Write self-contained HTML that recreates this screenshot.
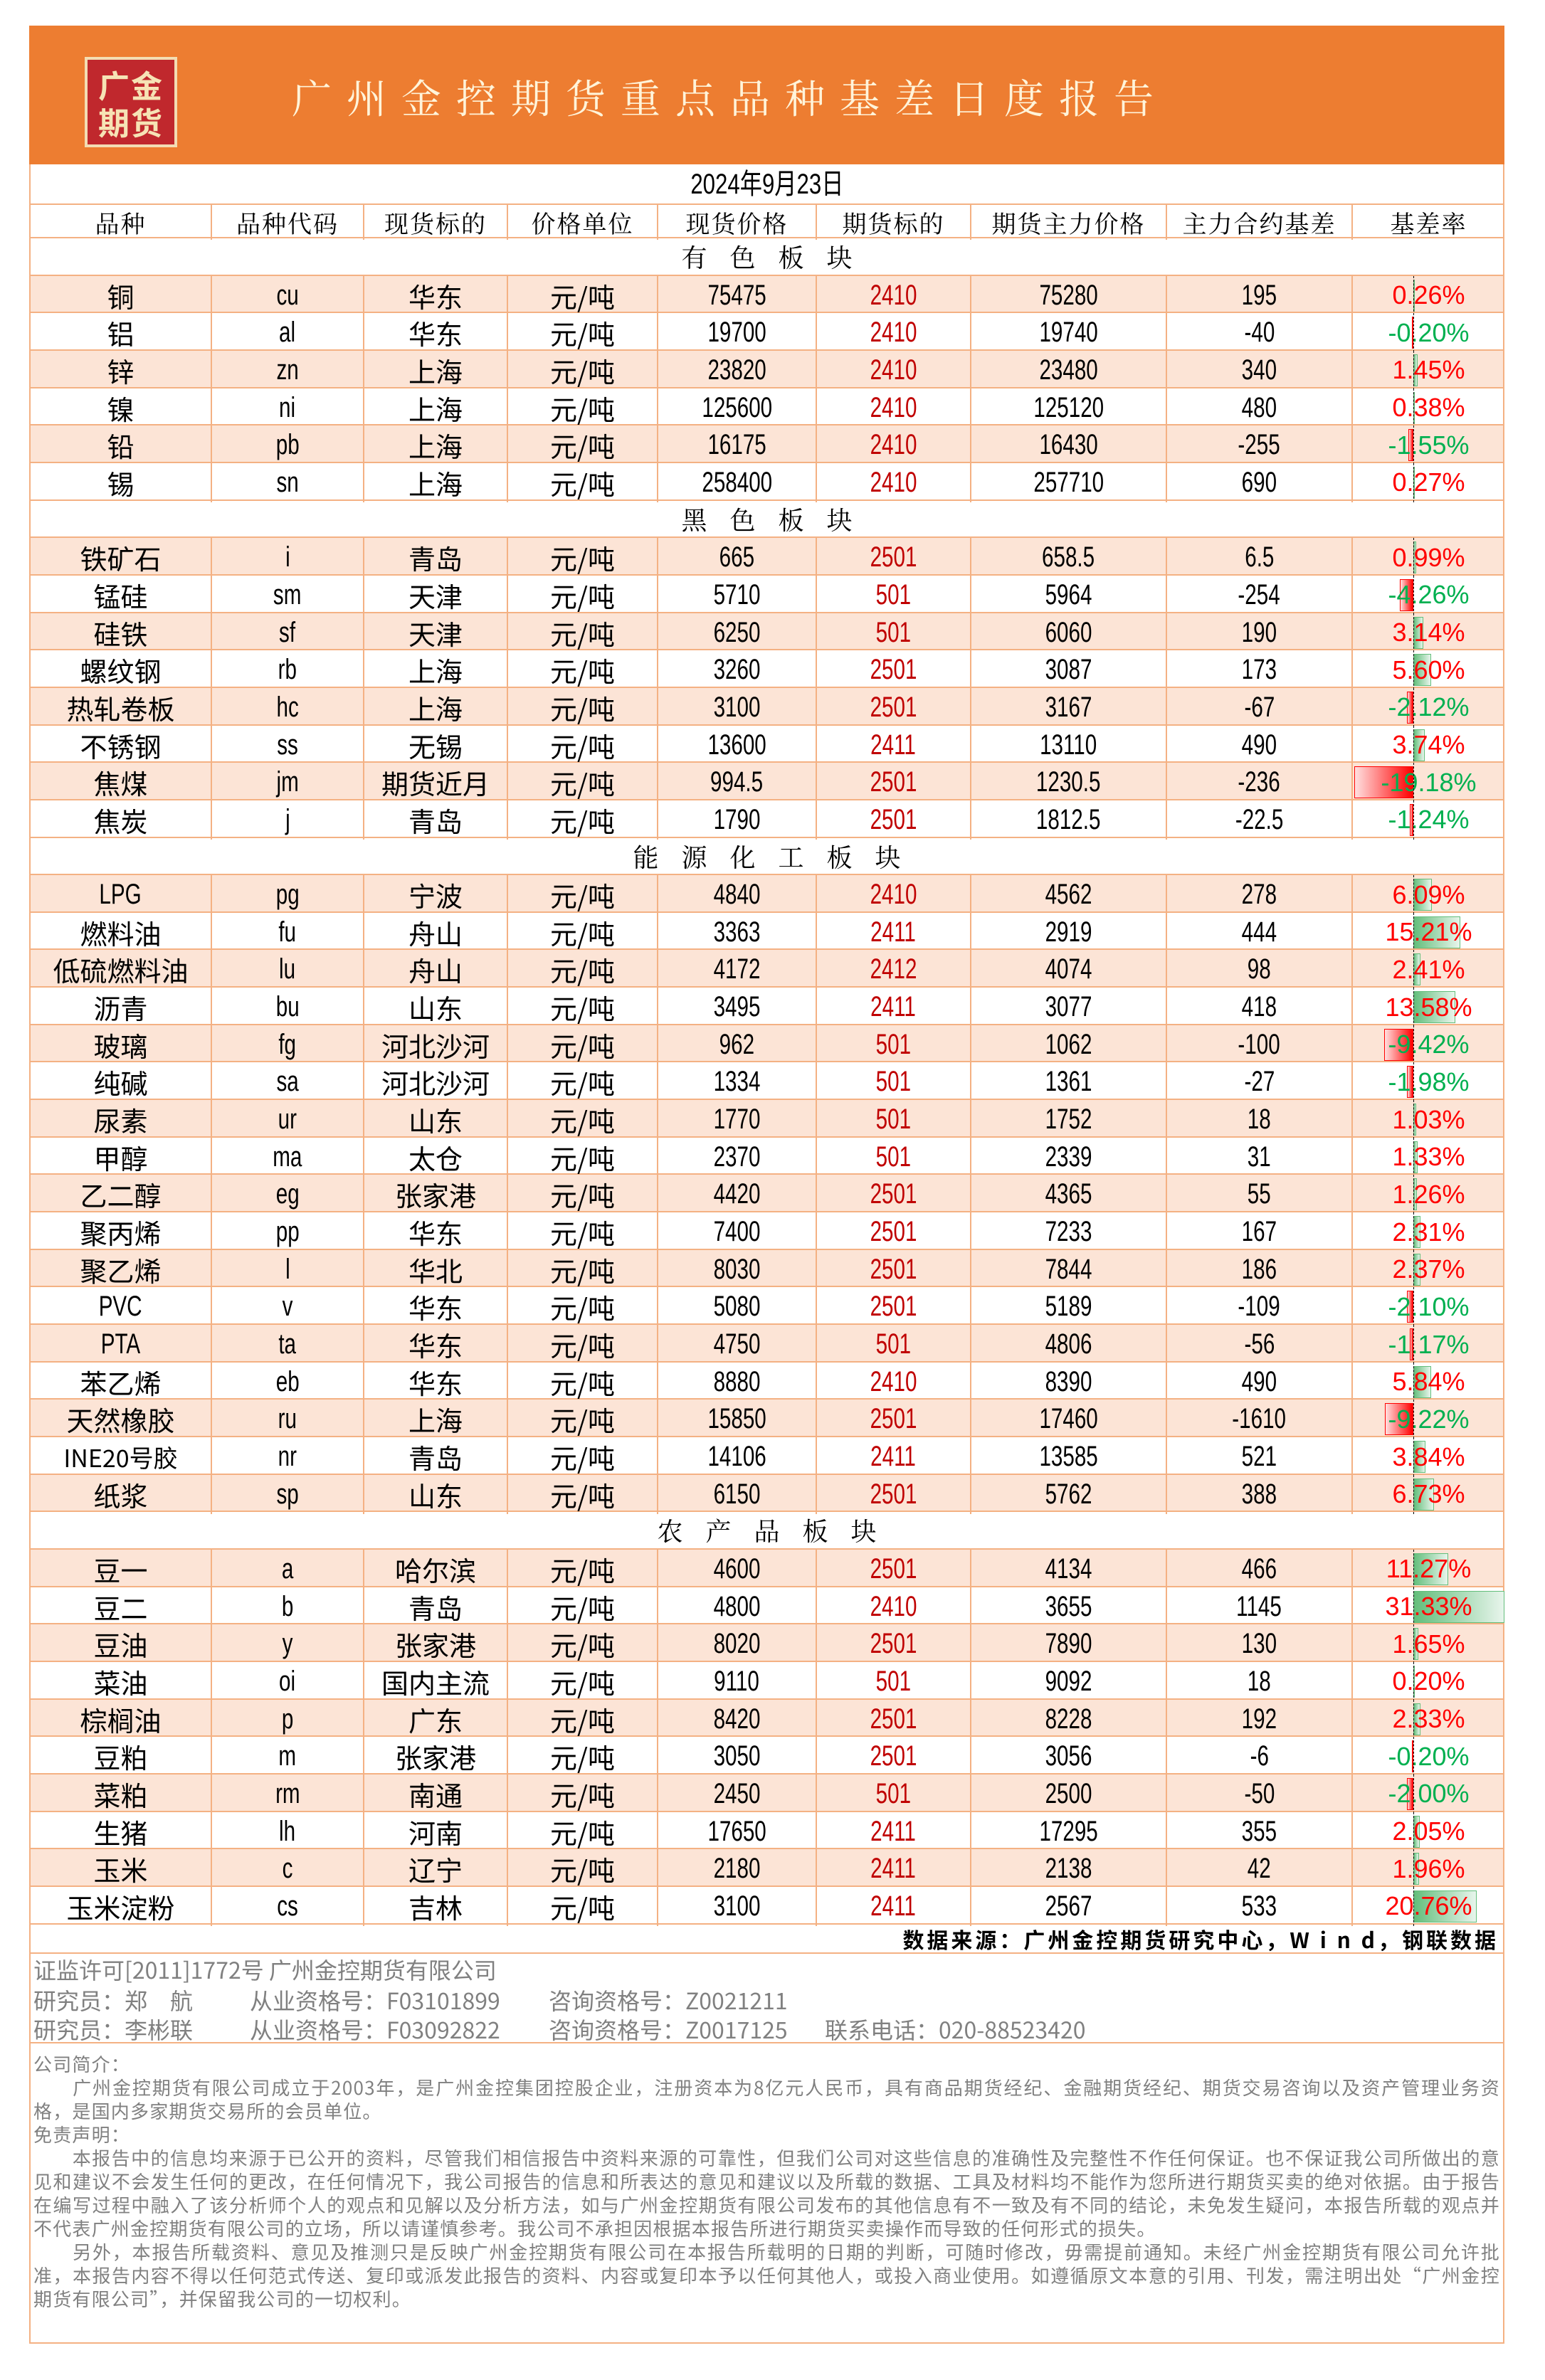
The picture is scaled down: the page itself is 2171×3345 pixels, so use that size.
<!DOCTYPE html>
<html><head><meta charset="utf-8"><style>
*{margin:0;padding:0;box-sizing:border-box}
body{width:2171px;height:3345px;background:#fff;position:relative;font-family:"Liberation Sans","Noto Sans CJK SC",sans-serif;overflow:hidden}
.abs{position:absolute}
#head{left:41px;top:36px;width:2073px;height:195px;background:#ED7D31}
#logo{left:119px;top:80px;width:130px;height:127px;background:#C0282D;border:4px solid #F3DDB3;color:#F6E3B5;font-family:"Noto Sans CJK SC",sans-serif;font-weight:bold;font-size:44px;line-height:52px;text-align:center;padding-top:8px;letter-spacing:2px}
#title{left:410px;top:96px;color:#FFF4DA;font-family:"Noto Serif CJK SC","Noto Sans CJK SC",serif;font-size:56px;letter-spacing:21px;white-space:nowrap}
.frame{position:absolute;left:41px;width:2073px;border-left:2px solid #F4B183;border-right:2px solid #F4B183;border-bottom:2px solid #F4B183}
.row{display:grid;grid-template-columns:255px 214px 202px 211px 223px 217px 275px 261px 213px;height:52.67px;border-bottom:2px solid #F4B183}
.row>div{border-right:2px solid #F4B183;display:flex;align-items:center;justify-content:center;font-size:38px;color:#000;font-family:"Noto Sans CJK SC",sans-serif;white-space:nowrap;position:relative}
.row>div:last-child{border-right:none}
.row b{font-weight:normal;display:inline-block;transform:scaleX(.74);font-size:40px;font-family:"Liberation Sans",sans-serif}
.row .r b{color:#C00000}
.p{background:#FCE4D6}
.sec{height:52.67px;border-bottom:2px solid #F4B183;text-align:center;font-family:"Noto Serif CJK SC","Noto Sans CJK SC",serif;font-size:36px;line-height:52px;letter-spacing:32px;padding-left:32px}
.hdr>div{font-family:"Noto Serif CJK SC","Noto Sans CJK SC",serif;font-size:34px!important;letter-spacing:2px}
.b{z-index:2}
.b span{position:relative;z-index:2;font-family:"Liberation Sans",sans-serif;font-size:36px}
.pos span{color:#FF0000}.neg span{color:#00B050}
.bar{position:absolute;top:5px;bottom:5px;z-index:1}
.g{left:85px;background:linear-gradient(to right,#63BE7B,#E8F5EC);border:1px solid #63BE7B}
.rd{right:128px;background:linear-gradient(to right,#FFE0E0,#FF0000);border:1px solid #FF0000}
.ax{position:absolute;left:85px;top:0;bottom:0;border-left:1.5px dashed #000;z-index:3}
.gray{color:#808080;font-family:"Noto Sans CJK SC",sans-serif}
</style></head><body>
<div id="head" class="abs"></div>
<div id="logo" class="abs">广金<br>期货</div>
<div id="title" class="abs">广州金控期货重点品种基差日度报告</div>

<div class="frame" style="top:231px;border-bottom:none">
<div style="height:57px;border-bottom:2px solid #F4B183;text-align:center;font-size:40px;line-height:56px;font-family:'Liberation Sans','Noto Sans CJK SC',sans-serif"><span style="display:inline-block;transform:scaleX(.78)">2024年9月23日</span></div>
<div class="row hdr" style="height:47px"><div>品种</div><div>品种代码</div><div>现货标的</div><div>价格单位</div><div>现货价格</div><div>期货标的</div><div>期货主力价格</div><div>主力合约基差</div><div>基差率</div></div>

<div class="sec">有色板块</div>
<div class="row p"><div>铜</div><div><b>cu</b></div><div>华东</div><div>元/吨</div><div><b>75475</b></div><div class="r"><b>2410</b></div><div><b>75280</b></div><div><b>195</b></div><div class="b pos"><i class="bar g" style="width:1px"></i><i class="ax"></i><span>0.26%</span></div></div>
<div class="row"><div>铝</div><div><b>al</b></div><div>华东</div><div>元/吨</div><div><b>19700</b></div><div class="r"><b>2410</b></div><div><b>19740</b></div><div><b>-40</b></div><div class="b neg"><i class="bar rd" style="width:1px"></i><i class="ax"></i><span>-0.20%</span></div></div>
<div class="row p"><div>锌</div><div><b>zn</b></div><div>上海</div><div>元/吨</div><div><b>23820</b></div><div class="r"><b>2410</b></div><div><b>23480</b></div><div><b>340</b></div><div class="b pos"><i class="bar g" style="width:6px"></i><i class="ax"></i><span>1.45%</span></div></div>
<div class="row"><div>镍</div><div><b>ni</b></div><div>上海</div><div>元/吨</div><div><b>125600</b></div><div class="r"><b>2410</b></div><div><b>125120</b></div><div><b>480</b></div><div class="b pos"><i class="bar g" style="width:2px"></i><i class="ax"></i><span>0.38%</span></div></div>
<div class="row p"><div>铅</div><div><b>pb</b></div><div>上海</div><div>元/吨</div><div><b>16175</b></div><div class="r"><b>2410</b></div><div><b>16430</b></div><div><b>-255</b></div><div class="b neg"><i class="bar rd" style="width:7px"></i><i class="ax"></i><span>-1.55%</span></div></div>
<div class="row"><div>锡</div><div><b>sn</b></div><div>上海</div><div>元/吨</div><div><b>258400</b></div><div class="r"><b>2410</b></div><div><b>257710</b></div><div><b>690</b></div><div class="b pos"><i class="bar g" style="width:1px"></i><i class="ax"></i><span>0.27%</span></div></div>

<div class="sec">黑色板块</div>
<div class="row p"><div>铁矿石</div><div><b>i</b></div><div>青岛</div><div>元/吨</div><div><b>665</b></div><div class="r"><b>2501</b></div><div><b>658.5</b></div><div><b>6.5</b></div><div class="b pos"><i class="bar g" style="width:4px"></i><i class="ax"></i><span>0.99%</span></div></div>
<div class="row"><div>锰硅</div><div><b>sm</b></div><div>天津</div><div>元/吨</div><div><b>5710</b></div><div class="r"><b>501</b></div><div><b>5964</b></div><div><b>-254</b></div><div class="b neg"><i class="bar rd" style="width:19px"></i><i class="ax"></i><span>-4.26%</span></div></div>
<div class="row p"><div>硅铁</div><div><b>sf</b></div><div>天津</div><div>元/吨</div><div><b>6250</b></div><div class="r"><b>501</b></div><div><b>6060</b></div><div><b>190</b></div><div class="b pos"><i class="bar g" style="width:14px"></i><i class="ax"></i><span>3.14%</span></div></div>
<div class="row"><div>螺纹钢</div><div><b>rb</b></div><div>上海</div><div>元/吨</div><div><b>3260</b></div><div class="r"><b>2501</b></div><div><b>3087</b></div><div><b>173</b></div><div class="b pos"><i class="bar g" style="width:25px"></i><i class="ax"></i><span>5.60%</span></div></div>
<div class="row p"><div>热轧卷板</div><div><b>hc</b></div><div>上海</div><div>元/吨</div><div><b>3100</b></div><div class="r"><b>2501</b></div><div><b>3167</b></div><div><b>-67</b></div><div class="b neg"><i class="bar rd" style="width:9px"></i><i class="ax"></i><span>-2.12%</span></div></div>
<div class="row"><div>不锈钢</div><div><b>ss</b></div><div>无锡</div><div>元/吨</div><div><b>13600</b></div><div class="r"><b>2411</b></div><div><b>13110</b></div><div><b>490</b></div><div class="b pos"><i class="bar g" style="width:16px"></i><i class="ax"></i><span>3.74%</span></div></div>
<div class="row p"><div>焦煤</div><div><b>jm</b></div><div>期货近月</div><div>元/吨</div><div><b>994.5</b></div><div class="r"><b>2501</b></div><div><b>1230.5</b></div><div><b>-236</b></div><div class="b neg"><i class="bar rd" style="width:83px"></i><i class="ax"></i><span>-19.18%</span></div></div>
<div class="row"><div>焦炭</div><div><b>j</b></div><div>青岛</div><div>元/吨</div><div><b>1790</b></div><div class="r"><b>2501</b></div><div><b>1812.5</b></div><div><b>-22.5</b></div><div class="b neg"><i class="bar rd" style="width:5px"></i><i class="ax"></i><span>-1.24%</span></div></div>

<div class="sec">能源化工板块</div>
<div class="row p"><div><b>LPG</b></div><div><b>pg</b></div><div>宁波</div><div>元/吨</div><div><b>4840</b></div><div class="r"><b>2410</b></div><div><b>4562</b></div><div><b>278</b></div><div class="b pos"><i class="bar g" style="width:26px"></i><i class="ax"></i><span>6.09%</span></div></div>
<div class="row"><div>燃料油</div><div><b>fu</b></div><div>舟山</div><div>元/吨</div><div><b>3363</b></div><div class="r"><b>2411</b></div><div><b>2919</b></div><div><b>444</b></div><div class="b pos"><i class="bar g" style="width:66px"></i><i class="ax"></i><span>15.21%</span></div></div>
<div class="row p"><div>低硫燃料油</div><div><b>lu</b></div><div>舟山</div><div>元/吨</div><div><b>4172</b></div><div class="r"><b>2412</b></div><div><b>4074</b></div><div><b>98</b></div><div class="b pos"><i class="bar g" style="width:10px"></i><i class="ax"></i><span>2.41%</span></div></div>
<div class="row"><div>沥青</div><div><b>bu</b></div><div>山东</div><div>元/吨</div><div><b>3495</b></div><div class="r"><b>2411</b></div><div><b>3077</b></div><div><b>418</b></div><div class="b pos"><i class="bar g" style="width:59px"></i><i class="ax"></i><span>13.58%</span></div></div>
<div class="row p"><div>玻璃</div><div><b>fg</b></div><div>河北沙河</div><div>元/吨</div><div><b>962</b></div><div class="r"><b>501</b></div><div><b>1062</b></div><div><b>-100</b></div><div class="b neg"><i class="bar rd" style="width:41px"></i><i class="ax"></i><span>-9.42%</span></div></div>
<div class="row"><div>纯碱</div><div><b>sa</b></div><div>河北沙河</div><div>元/吨</div><div><b>1334</b></div><div class="r"><b>501</b></div><div><b>1361</b></div><div><b>-27</b></div><div class="b neg"><i class="bar rd" style="width:9px"></i><i class="ax"></i><span>-1.98%</span></div></div>
<div class="row p"><div>尿素</div><div><b>ur</b></div><div>山东</div><div>元/吨</div><div><b>1770</b></div><div class="r"><b>501</b></div><div><b>1752</b></div><div><b>18</b></div><div class="b pos"><i class="bar g" style="width:4px"></i><i class="ax"></i><span>1.03%</span></div></div>
<div class="row"><div>甲醇</div><div><b>ma</b></div><div>太仓</div><div>元/吨</div><div><b>2370</b></div><div class="r"><b>501</b></div><div><b>2339</b></div><div><b>31</b></div><div class="b pos"><i class="bar g" style="width:6px"></i><i class="ax"></i><span>1.33%</span></div></div>
<div class="row p"><div>乙二醇</div><div><b>eg</b></div><div>张家港</div><div>元/吨</div><div><b>4420</b></div><div class="r"><b>2501</b></div><div><b>4365</b></div><div><b>55</b></div><div class="b pos"><i class="bar g" style="width:5px"></i><i class="ax"></i><span>1.26%</span></div></div>
<div class="row"><div>聚丙烯</div><div><b>pp</b></div><div>华东</div><div>元/吨</div><div><b>7400</b></div><div class="r"><b>2501</b></div><div><b>7233</b></div><div><b>167</b></div><div class="b pos"><i class="bar g" style="width:10px"></i><i class="ax"></i><span>2.31%</span></div></div>
<div class="row p"><div>聚乙烯</div><div><b>l</b></div><div>华北</div><div>元/吨</div><div><b>8030</b></div><div class="r"><b>2501</b></div><div><b>7844</b></div><div><b>186</b></div><div class="b pos"><i class="bar g" style="width:10px"></i><i class="ax"></i><span>2.37%</span></div></div>
<div class="row"><div><b>PVC</b></div><div><b>v</b></div><div>华东</div><div>元/吨</div><div><b>5080</b></div><div class="r"><b>2501</b></div><div><b>5189</b></div><div><b>-109</b></div><div class="b neg"><i class="bar rd" style="width:9px"></i><i class="ax"></i><span>-2.10%</span></div></div>
<div class="row p"><div><b>PTA</b></div><div><b>ta</b></div><div>华东</div><div>元/吨</div><div><b>4750</b></div><div class="r"><b>501</b></div><div><b>4806</b></div><div><b>-56</b></div><div class="b neg"><i class="bar rd" style="width:5px"></i><i class="ax"></i><span>-1.17%</span></div></div>
<div class="row"><div>苯乙烯</div><div><b>eb</b></div><div>华东</div><div>元/吨</div><div><b>8880</b></div><div class="r"><b>2410</b></div><div><b>8390</b></div><div><b>490</b></div><div class="b pos"><i class="bar g" style="width:25px"></i><i class="ax"></i><span>5.84%</span></div></div>
<div class="row p"><div>天然橡胶</div><div><b>ru</b></div><div>上海</div><div>元/吨</div><div><b>15850</b></div><div class="r"><b>2501</b></div><div><b>17460</b></div><div><b>-1610</b></div><div class="b neg"><i class="bar rd" style="width:40px"></i><i class="ax"></i><span>-9.22%</span></div></div>
<div class="row"><div style="font-size:34px">INE20号胶</div><div><b>nr</b></div><div>青岛</div><div>元/吨</div><div><b>14106</b></div><div class="r"><b>2411</b></div><div><b>13585</b></div><div><b>521</b></div><div class="b pos"><i class="bar g" style="width:17px"></i><i class="ax"></i><span>3.84%</span></div></div>
<div class="row p"><div>纸浆</div><div><b>sp</b></div><div>山东</div><div>元/吨</div><div><b>6150</b></div><div class="r"><b>2501</b></div><div><b>5762</b></div><div><b>388</b></div><div class="b pos"><i class="bar g" style="width:29px"></i><i class="ax"></i><span>6.73%</span></div></div>

<div class="sec">农产品板块</div>
<div class="row p"><div>豆一</div><div><b>a</b></div><div>哈尔滨</div><div>元/吨</div><div><b>4600</b></div><div class="r"><b>2501</b></div><div><b>4134</b></div><div><b>466</b></div><div class="b pos"><i class="bar g" style="width:49px"></i><i class="ax"></i><span>11.27%</span></div></div>
<div class="row"><div>豆二</div><div><b>b</b></div><div>青岛</div><div>元/吨</div><div><b>4800</b></div><div class="r"><b>2410</b></div><div><b>3655</b></div><div><b>1145</b></div><div class="b pos"><i class="bar g" style="width:128px"></i><i class="ax"></i><span>31.33%</span></div></div>
<div class="row p"><div>豆油</div><div><b>y</b></div><div>张家港</div><div>元/吨</div><div><b>8020</b></div><div class="r"><b>2501</b></div><div><b>7890</b></div><div><b>130</b></div><div class="b pos"><i class="bar g" style="width:7px"></i><i class="ax"></i><span>1.65%</span></div></div>
<div class="row"><div>菜油</div><div><b>oi</b></div><div>国内主流</div><div>元/吨</div><div><b>9110</b></div><div class="r"><b>501</b></div><div><b>9092</b></div><div><b>18</b></div><div class="b pos"><i class="bar g" style="width:1px"></i><i class="ax"></i><span>0.20%</span></div></div>
<div class="row p"><div>棕榈油</div><div><b>p</b></div><div>广东</div><div>元/吨</div><div><b>8420</b></div><div class="r"><b>2501</b></div><div><b>8228</b></div><div><b>192</b></div><div class="b pos"><i class="bar g" style="width:10px"></i><i class="ax"></i><span>2.33%</span></div></div>
<div class="row"><div>豆粕</div><div><b>m</b></div><div>张家港</div><div>元/吨</div><div><b>3050</b></div><div class="r"><b>2501</b></div><div><b>3056</b></div><div><b>-6</b></div><div class="b neg"><i class="bar rd" style="width:1px"></i><i class="ax"></i><span>-0.20%</span></div></div>
<div class="row p"><div>菜粕</div><div><b>rm</b></div><div>南通</div><div>元/吨</div><div><b>2450</b></div><div class="r"><b>501</b></div><div><b>2500</b></div><div><b>-50</b></div><div class="b neg"><i class="bar rd" style="width:9px"></i><i class="ax"></i><span>-2.00%</span></div></div>
<div class="row"><div>生猪</div><div><b>lh</b></div><div>河南</div><div>元/吨</div><div><b>17650</b></div><div class="r"><b>2411</b></div><div><b>17295</b></div><div><b>355</b></div><div class="b pos"><i class="bar g" style="width:9px"></i><i class="ax"></i><span>2.05%</span></div></div>
<div class="row p"><div>玉米</div><div><b>c</b></div><div>辽宁</div><div>元/吨</div><div><b>2180</b></div><div class="r"><b>2411</b></div><div><b>2138</b></div><div><b>42</b></div><div class="b pos"><i class="bar g" style="width:8px"></i><i class="ax"></i><span>1.96%</span></div></div>
<div class="row"><div>玉米淀粉</div><div><b>cs</b></div><div>吉林</div><div>元/吨</div><div><b>3100</b></div><div class="r"><b>2411</b></div><div><b>2567</b></div><div><b>533</b></div><div class="b pos"><i class="bar g" style="width:89px"></i><i class="ax"></i><span>20.76%</span></div></div>

<div style="height:41px;border-bottom:2px solid #F4B183;text-align:right;padding-right:6px;font-size:30px;font-weight:bold;line-height:40px;font-family:'Noto Sans CJK SC',sans-serif;letter-spacing:4px">数据来源：广州金控期货研究中心，W i n d，钢联数据</div>
<div class="gray" style="height:126px;border-bottom:2px solid #F4B183;position:relative;font-size:32px;line-height:40px">
<div class="abs" style="left:4px;top:2px">证监许可[2011]1772号 广州金控期货有限公司</div>
<div class="abs" style="left:4px;top:45px">研究员：郑　航</div><div class="abs" style="left:308px;top:45px">从业资格号：F03101899</div><div class="abs" style="left:728px;top:45px">咨询资格号：Z0021211</div>
<div class="abs" style="left:4px;top:86px">研究员：李彬联</div><div class="abs" style="left:308px;top:86px">从业资格号：F03092822</div><div class="abs" style="left:728px;top:86px">咨询资格号：Z0017125</div><div class="abs" style="left:1116px;top:86px">联系电话：020-88523420</div>
</div>
<div class="gray" style="height:420px;font-size:26px;line-height:33px;padding:12px 4px 0 4px;letter-spacing:1.2px;text-align:justify">
公司简介：<br>
&emsp;&emsp;广州金控期货有限公司成立于2003年，是广州金控集团控股企业，注册资本为8亿元人民币，具有商品期货经纪、金融期货经纪、期货交易咨询以及资产管理业务资格，是国内多家期货交易所的会员单位。<br>
免责声明：<br>
&emsp;&emsp;本报告中的信息均来源于已公开的资料，尽管我们相信报告中资料来源的可靠性，但我们公司对这些信息的准确性及完整性不作任何保证。也不保证我公司所做出的意见和建议不会发生任何的更改，在任何情况下，我公司报告的信息和所表达的意见和建议以及所载的数据、工具及材料均不能作为您所进行期货买卖的绝对依据。由于报告在编写过程中融入了该分析师个人的观点和见解以及分析方法，如与广州金控期货有限公司发布的其他信息有不一致及有不同的结论，未免发生疑问，本报告所载的观点并不代表广州金控期货有限公司的立场，所以请谨慎参考。我公司不承担因根据本报告所进行期货买卖操作而导致的任何形式的损失。<br>
&emsp;&emsp;另外，本报告所载资料、意见及推测只是反映广州金控期货有限公司在本报告所载明的日期的判断，可随时修改，毋需提前通知。未经广州金控期货有限公司允许批准，本报告内容不得以任何范式传送、复印或派发此报告的资料、内容或复印本予以任何其他人，或投入商业使用。如遵循原文本意的引用、刊发，需注明出处“广州金控期货有限公司”，并保留我公司的一切权利。
</div>
</div>
<div class="abs" style="left:41px;top:3292px;width:2073px;border-top:2px solid #F4B183"></div>
</body></html>
